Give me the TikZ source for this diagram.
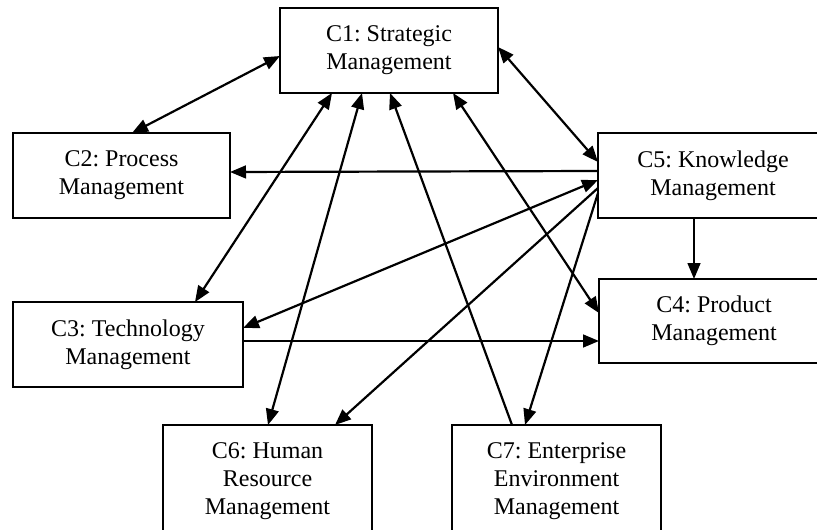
\documentclass[tikz,border=0pt]{standalone}
\usepackage{fontspec}
\setmainfont{Liberation Serif}
\usetikzlibrary{calc,arrows.meta}
\begin{document}
\frenchspacing
\begin{tikzpicture}[x=0.5pt,y=-0.5pt,
  box/.style={draw,line width=0.8pt,rectangle,inner sep=0pt,outer sep=0pt,align=center,
    font=\fontsize{12}{14}\selectfont\frenchspacing},
  conn/.style={line width=1.1pt},
  >={Triangle[length=8pt,width=6.4pt]}]
\useasboundingbox (0,0) rectangle (817,529);
\clip (0,0) rectangle (817,529);
\node[box,minimum width=109pt,minimum height=42.5pt] (c1) at (389,50.5) {C1: Strategic\\Management};
\node[box,minimum width=108.5pt,minimum height=42.5pt] (c2) at (121.5,175.5) {C2: Process\\Management};
\node[box,minimum width=115pt,minimum height=42.5pt] (c3) at (128,344.5) {C3: Technology\\Management};
\node[box,minimum width=115pt,minimum height=42.5pt] (c5) at (713,175.5) {C5: Knowledge\\Management};
\node[box,minimum width=115pt,minimum height=42pt] (c4) at (714,321) {C4: Product\\Management};
\node[box,minimum width=104.5pt,minimum height=56pt] (c6) at (267.5,481) {C6: Human\\Resource\\Management};
\node[box,minimum width=104.5pt,minimum height=56pt] (c7) at (556.5,481) {C7: Enterprise\\Environment\\Management};

\draw[conn,<->] ($(c2.north west)+(119,0)$) -- ($(c1.north west)+(0,48)$);
\draw[conn,<->] ($(c1.north east)+(0,39)$) -- ($(c5.north west)+(0,29)$);
\draw[conn,->] ($(c5.north west)+(0,38)$) -- ($(c2.north east)+(0,39)$);
\draw[conn,<->] ($(c3.north west)+(182,0)$) -- ($(c1.south west)+(52,0)$);
\draw[conn,<->] ($(c3.north east)+(0,26)$) -- ($(c5.north west)+(0,47)$);
\draw[conn,->] ($(c3.north east)+(0,39)$) -- ($(c4.north west)+(0,62)$);
\draw[conn,<->] ($(c6.north west)+(105,0)$) -- ($(c1.south west)+(82,0)$);
\draw[conn,->] ($(c7.north west)+(60,0)$) -- ($(c1.south west)+(110,0)$);
\draw[conn,<->] ($(c1.south west)+(173,0)$) -- ($(c4.north west)+(0,34)$);
\draw[conn,->] ($(c5.north west)+(0,55)$) -- ($(c6.north west)+(172,0)$);
\draw[conn,->] ($(c5.north west)+(0,60)$) -- ($(c7.north west)+(73,0)$);
\draw[conn,->] ($(c5.south west)+(96,0)$) -- ($(c4.north west)+(95,0)$);
\end{tikzpicture}
\end{document}
